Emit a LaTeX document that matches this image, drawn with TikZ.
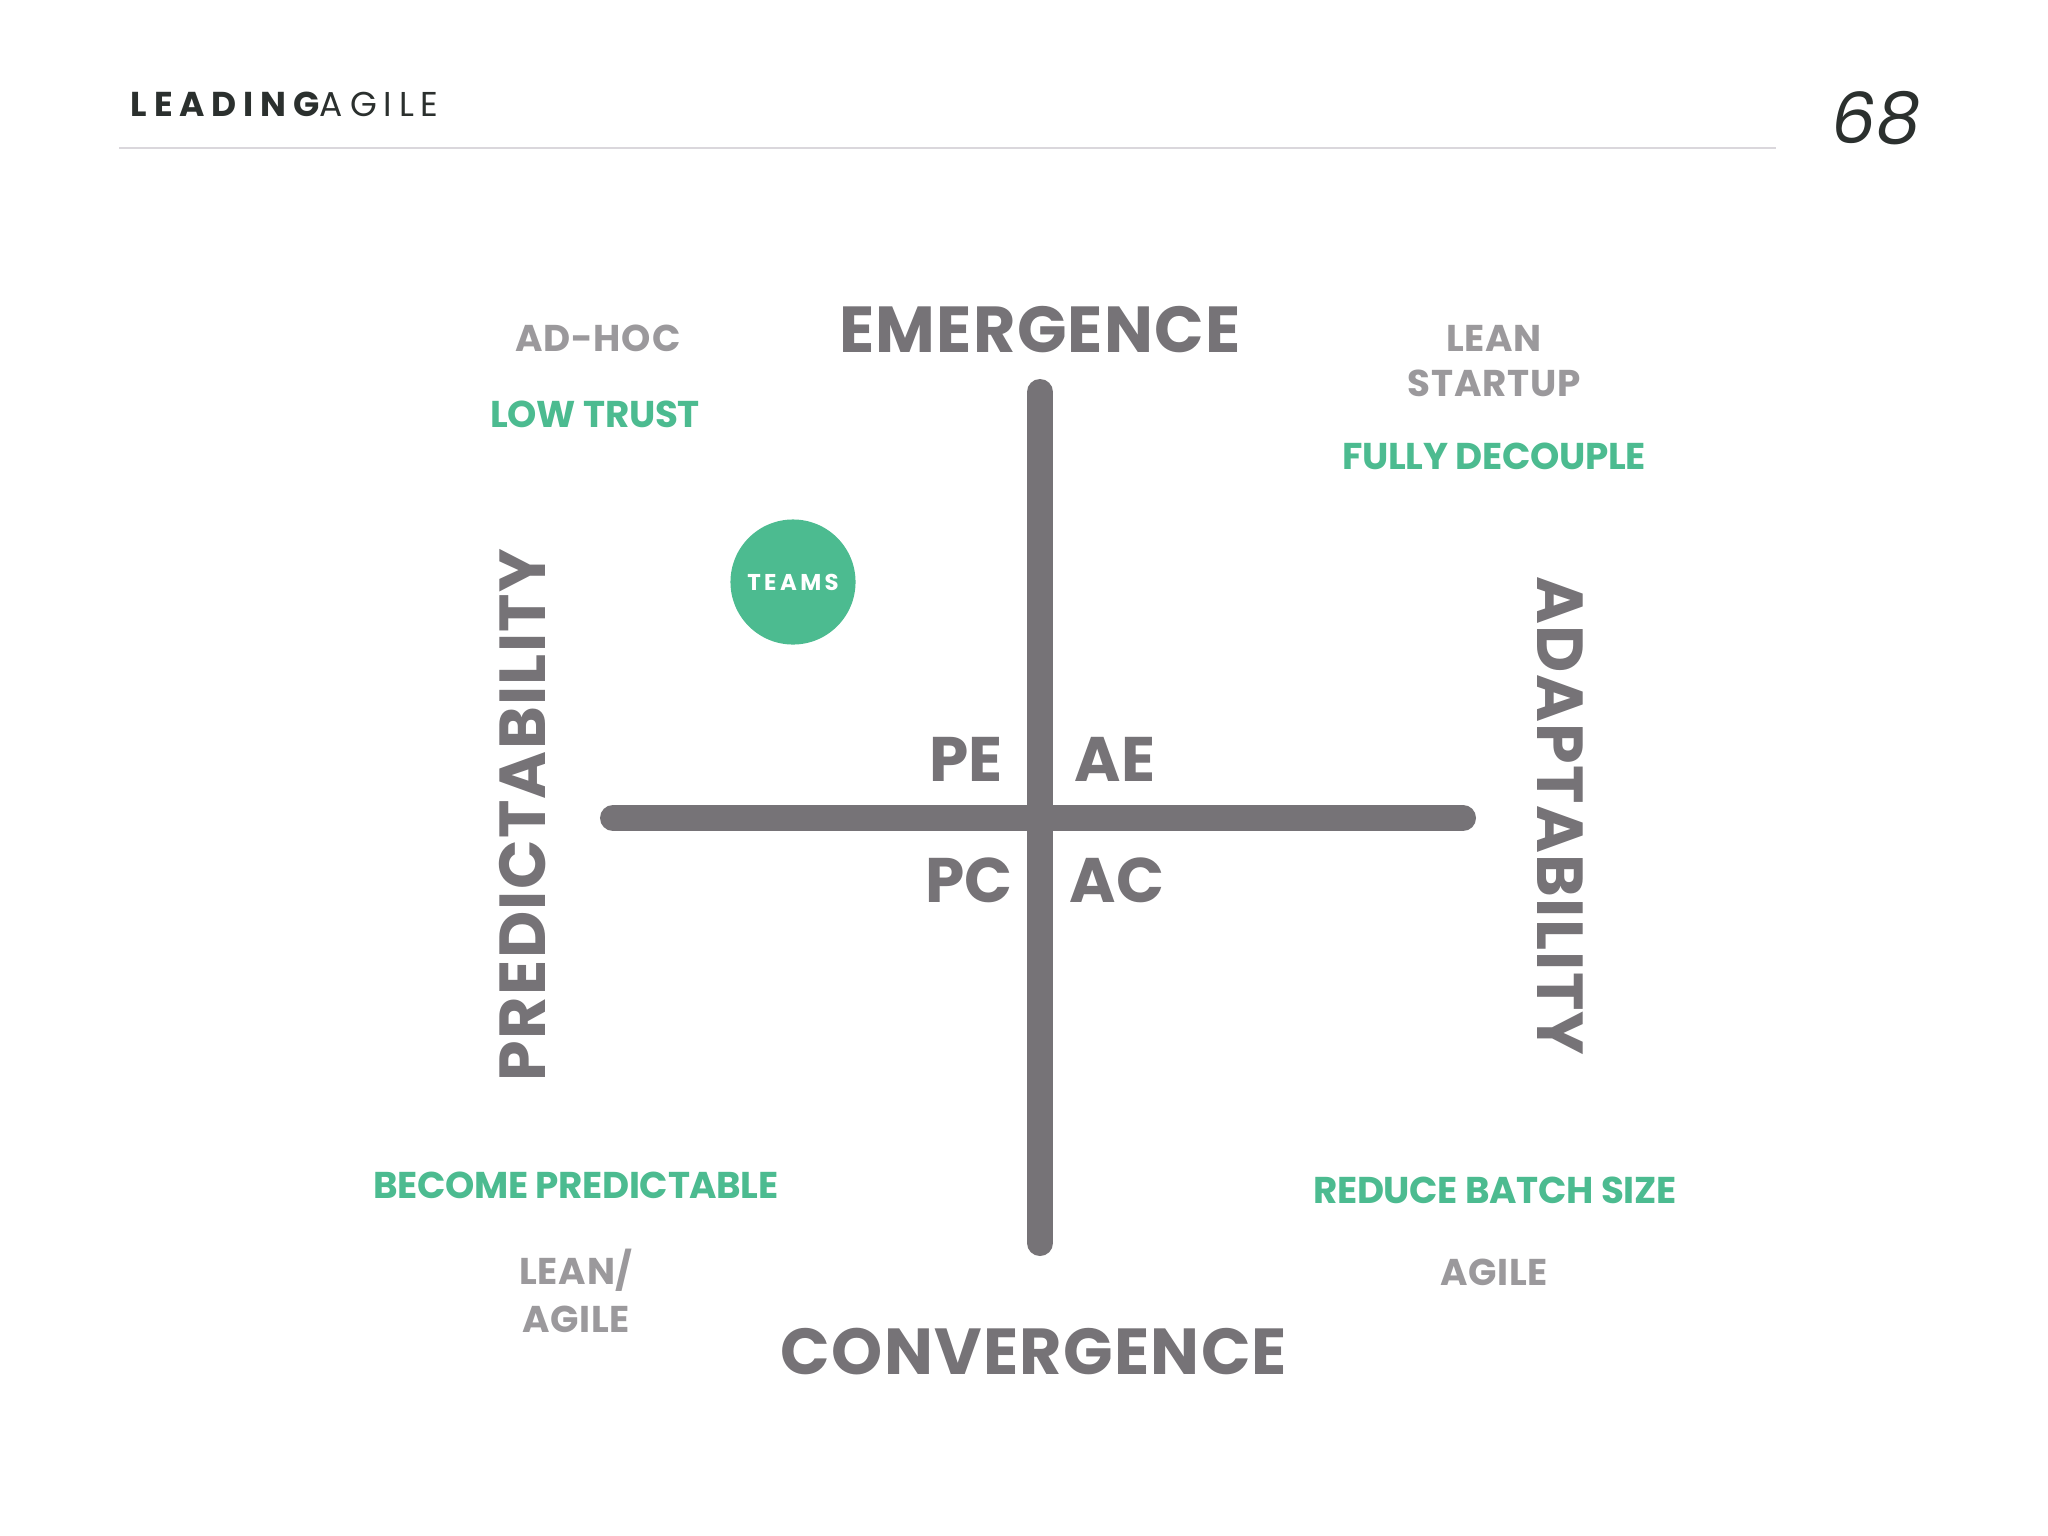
\documentclass[tikz,border=0pt]{standalone}
\usepackage{fontspec}
\setmainfont{Poppins}
\definecolor{axisgray}{HTML}{767377}
\definecolor{softgray}{HTML}{9B999C}
\definecolor{teamgreen}{HTML}{4CBB90}
\definecolor{headdark}{HTML}{2B302E}
\definecolor{rulegray}{HTML}{DAD7DC}

\begin{document}
\begin{tikzpicture}[x=0.01cm, y=-0.01cm,
	axis/.style={line width=0.26cm, line cap=round, draw=axisgray},
	axislabel/.style={anchor=base, inner sep=0pt, text=axisgray, font=\fontsize{18.5}{20}\selectfont\bfseries\addfontfeatures{LetterSpace=2}},
	quadlabel/.style={anchor=base, inner sep=0pt, text=axisgray, font=\fontsize{17.9}{19}\selectfont\bfseries},
	practice/.style={anchor=base, inner sep=0pt, text=softgray, font=\fontsize{10.6}{12}\selectfont\bfseries\addfontfeatures{LetterSpace=2}},
	goal/.style={anchor=base, inner sep=0pt, text=teamgreen, font=\fontsize{10.6}{12}\selectfont\bfseries\addfontfeatures{LetterSpace=-1}}]
	\useasboundingbox[fill=white] (0,0) rectangle (2048,1536);
	% header
	\node[anchor=base west, inner sep=0pt, text=headdark, font=\fontsize{9.8}{11}\selectfont\addfontfeatures{LetterSpace=20}] (brand) at (130,116) {{\bfseries LEADING}AGILE};
	\coordinate (rulel) at (119,148);
	\coordinate (ruler) at (1776,148);
	\draw[rulegray, line width=0.6pt] (rulel)--(ruler);
	\node[anchor=base, inner sep=0pt, text=headdark, font=\fontsize{20}{22}\selectfont\itshape] (page) at (1876,143) {68};
	% axes
	\coordinate (top) at (1040,392);
	\coordinate (bot) at (1040,1243);
	\coordinate (lft) at (613,818);
	\coordinate (rgt) at (1463,818);
	\draw[axis] (top)--(bot);
	\draw[axis] (lft)--(rgt);
	\node[axislabel] (em) at (1040,352) {EMERGENCE};
	\node[axislabel] (co) at (1034,1374) {CONVERGENCE};
	\node[axislabel, rotate=90] (pr) at (545,815) {PREDICTABILITY};
	\node[axislabel, rotate=-90] (ad) at (1537,816) {ADAPTABILITY};
	% quadrants
	\node[quadlabel] (pe) at (966,781) {PE};
	\node[quadlabel] (ae) at (1115,781) {AE};
	\node[quadlabel] (pc) at (969,902) {PC};
	\node[quadlabel] (ac) at (1117,902) {AC};
	% corners
	\node[practice] (adhoc) at (598,351) {AD-HOC};
	\node[goal] (lowtrust) at (595,427) {LOW TRUST};
	\node[practice] (lean) at (1494,351) {LEAN};
	\node[practice] (startup) at (1494,396) {STARTUP};
	\node[goal] (decouple) at (1494,469) {FULLY DECOUPLE};
	\node[goal] (predictable) at (576,1198) {BECOME PREDICTABLE};
	\node[practice] (leanslash) at (576,1284) {LEAN/};
	\node[practice] (leanagile) at (576,1332) {AGILE};
	\node[goal] (batch) at (1495,1203) {REDUCE BATCH SIZE};
	\node[practice] (agile) at (1494,1285) {AGILE};
	% teams
	\node[circle, fill=teamgreen, minimum size=1.25cm, inner sep=0pt, text=white, font=\fontsize{6.5}{7}\selectfont\bfseries\addfontfeatures{LetterSpace=15}] (teams) at (793,582) {TEAMS};
\end{tikzpicture}
\end{document}
